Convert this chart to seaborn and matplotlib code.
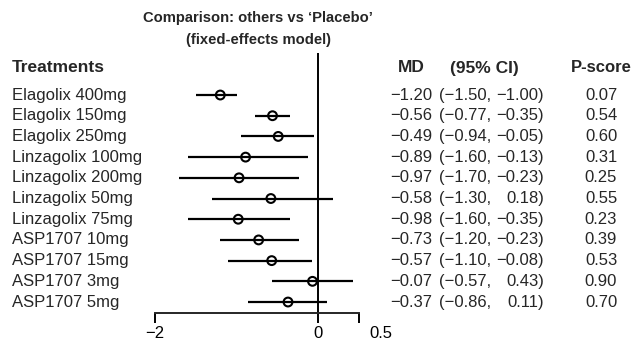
import matplotlib
matplotlib.use("Agg")
import matplotlib.pyplot as plt
import matplotlib.transforms as mtransforms
from matplotlib import font_manager
import numpy as np
import pandas as pd
import seaborn as sns

sns.set_style("white")
plt.rcParams['font.family'] = ['Liberation Sans', 'DejaVu Sans']

treatments = ['Elagolix 400mg', 'Elagolix 150mg', 'Elagolix 250mg',
              'Linzagolix 100mg', 'Linzagolix 200mg', 'Linzagolix 50mg',
              'Linzagolix 75mg', 'ASP1707 10mg', 'ASP1707 15mg',
              'ASP1707 3mg', 'ASP1707 5mg']
md = [-1.20, -0.56, -0.49, -0.89, -0.97, -0.58, -0.98, -0.73, -0.57, -0.07, -0.37]
ci_low = [-1.50, -0.77, -0.94, -1.60, -1.70, -1.30, -1.60, -1.20, -1.10, -0.57, -0.86]
ci_high = [-1.00, -0.35, -0.05, -0.13, -0.23, 0.18, -0.35, -0.23, -0.08, 0.43, 0.11]
pscore = [0.07, 0.54, 0.60, 0.31, 0.25, 0.55, 0.23, 0.39, 0.53, 0.90, 0.70]

df = pd.DataFrame({'treatment': treatments, 'md': md, 'low': ci_low,
                   'high': ci_high, 'pscore': pscore})
df['row'] = np.arange(len(df))

# narrow bold title if we have it, otherwise a smaller regular bold
names = {f.name for f in font_manager.fontManager.ttflist}
if 'Liberation Sans Narrow' in names:
    title_font, title_size = 'Liberation Sans Narrow', 12.5
else:
    title_font, title_size = 'Liberation Sans', 10.6

W, H = 633, 346
fig = plt.figure(figsize=(W / 100, H / 100), dpi=100)
ax = fig.add_axes([155 / W, 1 - 313 / H, 204 / W, 260 / H])

# CI lines and point estimates
ax.hlines(df['row'], df['low'], df['high'], color='black', lw=1.6, clip_on=False)
sns.scatterplot(data=df, x='md', y='row', ax=ax, s=40, marker='o',
                facecolor='none', edgecolor='black', linewidth=1.5,
                zorder=3, clip_on=False, legend=False)
ax.axvline(0, color='black', lw=1.4)

ax.set_xlim(-2, 0.5)
ax.set_ylim(10.53, -2.03)
ax.set_xlabel('')
ax.set_ylabel('')
ax.set_yticks([])
for s in ['top', 'right', 'left']:
    ax.spines[s].set_visible(False)
ax.spines['bottom'].set_linewidth(1.4)
ax.set_xticks([-2, 0, 0.5])
ax.set_xticklabels(['\u22122', '0', '0.5'], fontsize=12)
ax.tick_params(axis='x', direction='out', length=7.2, width=1.4, pad=2,
               bottom=True, colors='black')
# the "0.5" label sits right of its tick in the original
lab = ax.get_xticklabels()[2]
lab.set_transform(lab.get_transform() + mtransforms.ScaledTranslation(22 / 100, 0, fig.dpi_scale_trans))

tr = mtransforms.blended_transform_factory(fig.transFigure, ax.transData)
fs = 12
for i, r in df.iterrows():
    y = r['row']
    ax.text(12 / W, y, r['treatment'], transform=tr, fontsize=fs, va='center', ha='left')
    ax.text(432 / W, y, f"{r['md']:.2f}".replace('-', '\u2212'), transform=tr,
            fontsize=fs, va='center', ha='right')
    ax.text(491 / W, y, f"({r['low']:.2f},".replace('-', '\u2212'), transform=tr,
            fontsize=fs, va='center', ha='right')
    ax.text(544 / W, y, f"{r['high']:.2f})".replace('-', '\u2212'), transform=tr,
            fontsize=fs, va='center', ha='right')
    ax.text(601 / W, y, f"{r['pscore']:.2f}", transform=tr, fontsize=fs,
            va='center', ha='center')

hy = 1 - 68 / H
fig.text(12 / W, hy, 'Treatments', fontsize=12.5, fontweight='bold', va='center')
fig.text(398 / W, hy, 'MD', fontsize=12.5, fontweight='bold', va='center')
fig.text(450 / W, hy, '(95% CI)', fontsize=12.5, fontweight='bold', va='center')
fig.text(601 / W, hy, 'P-score', fontsize=12, fontweight='bold', va='center', ha='center')

fig.text(258 / W, 1 - 18 / H, 'Comparison: others vs \u2018Placebo\u2019', fontsize=title_size,
         fontweight='bold', ha='center', va='center', family=title_font)
fig.text(258 / W, 1 - 40 / H, '(fixed-effects model)', fontsize=title_size,
         fontweight='bold', ha='center', va='center', family=title_font)

fig.savefig('out.png', dpi=100, facecolor='white')
